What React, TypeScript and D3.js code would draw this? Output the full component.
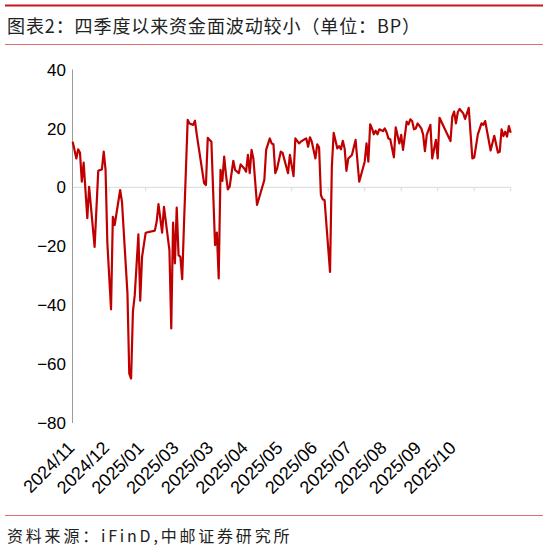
import { select, scaleLinear, line, format } from 'd3';
import { useEffect, useRef } from 'react';

// trading-day index (0 = start of 2024/11) and spread value in BP
const dayIndex = [
  0, 2, 3, 4, 5, 6, 8, 9, 12, 14, 16, 17, 18, 19, 21, 22, 23, 26, 27, 30,
  31, 32, 33, 34, 36, 37, 38, 40, 45, 46, 47, 49, 50, 53, 54, 55, 56, 57, 58, 59,
  60, 61, 63, 64, 66, 67, 68, 72, 73, 74, 75, 76, 78, 79, 80, 81, 82, 83, 84, 85,
  86, 88, 89, 91, 92, 94, 95, 96, 97, 98, 99, 101, 105, 106, 108, 109, 110, 111, 112, 114,
  115, 118, 119, 121, 122, 124, 125, 127, 128, 129, 130, 131, 132, 133, 134, 135, 136, 137, 138, 141,
  142, 143, 145, 146, 147, 148, 149, 150, 151, 153, 155, 157, 160, 161, 162, 163, 164, 165, 166, 167,
  168, 170, 171, 172, 173, 174, 176, 177, 179, 180, 181, 183, 184, 185, 186, 187, 188, 189, 191, 192,
  193, 194, 196, 197, 199, 200, 201, 207, 208, 209, 210, 211, 212, 214, 215, 217, 219, 220, 222, 224,
  225, 226, 229, 231, 233, 234, 235, 236, 237, 238, 239, 240,
];
const spreadBP = [
  15.5, 9.8, 12.9, 11.7, 1.9, 8.4, -10.5, 0.2, -20.2, 5.6, 6.1, 12.1, 5.9, -19, -41.4, -10, -12.8, -0.9, -4.9, -36,
  -63.2, -64.9, -42.2, -36.6, -16, -38.5, -23.6, -15.4, -14.7, -11.7, -5.7, -15.4, -6.6, -21.3, -47.9, -12, -25.8, -6.9, -23, -23.6,
  -31.2, -12.2, 22.9, 21.7, 21.2, 22.6, 17.8, 1.4, 0.8, 16.8, 16.1, 15.5, -19.6, -15.4, -30.9, 5.9, 2.2, 10.4, 4.2, -0.7,
  0.2, 9.0, 5.9, 4.8, 7.8, 6.4, 5.3, 11, 4.8, 12.7, 9.8, -6, 2.5, 12.7, 16.6, 14.9, 14.6, 4.8, 6.4, 12.1,
  11.7, 4.8, 11, 3.8, 16.6, 14.9, 15.5, 16.3, 16.6, 13.8, 17, 15.5, 12.7, 9.8, 14.6, 13.6, -2.6, -4.1, -4.3, -28.7,
  7.0, 18.5, 13.2, 14, 12.9, 15.8, 13.2, 5.6, 9.8, 11, 16.1, 1.9, 8.7, 14.9, 8.7, 21.4, 20, 18, 19.2, 18,
  19.7, 19.1, 20, 18.7, 16.6, 16.3, 10.2, 20.4, 14.9, 17.8, 12.7, 22.3, 21.4, 23.1, 22.5, 19.7, 20, 21.7, 20, 18,
  12.3, 17.8, 21.2, 9.8, 16.1, 9.8, 23.6, 15.7, 24, 25.7, 21.7, 25.5, 26.6, 25.1, 23.2, 27, 9.8, 10.1, 18, 21.7,
  21.2, 22.5, 12.5, 17.5, 11.8, 12.1, 19.7, 17.4, 18.9, 17.2, 20.8, 18.5,
];
const yTicks = [40, 20, 0, -20, -40, -60, -80];
const xLabels = [
  '2024/11', '2024/12', '2025/01', '2025/03', '2025/03', '2025/04',
  '2025/05', '2025/06', '2025/07', '2025/08', '2025/09', '2025/10',
];
const labelStep = 19;
const tickStep = 20;
const lastDay = 240;

const W = 548;
const H = 551;

export default function App() {
  const svgElement = useRef<SVGSVGElement>(null);

  useEffect(() => {
    if (svgElement.current == null) return;
    const svg = select(svgElement.current);
    svg.selectAll('*').remove();

    const x = scaleLinear().domain([0, lastDay]).range([72.7, 510.7]);
    const y = scaleLinear().domain([-80, 40]).range([423, 69.5]);
    const fmt = format('d');

    // header / footer rules
    svg.append('line').attr('x1', 5).attr('x2', 543).attr('y1', 5.5).attr('y2', 5.5)
      .attr('stroke', '#c8161d').attr('stroke-width', 2);
    svg.append('text').attr('x', 7).attr('y', 33)
      .attr('font-family', '"Noto Sans CJK SC", sans-serif').attr('font-size', 18)
      .attr('letter-spacing', 0.9).attr('fill', '#222')
      .text('图表2：四季度以来资金面波动较小（单位：BP）');
    svg.append('line').attr('x1', 5).attr('x2', 543).attr('y1', 44.5).attr('y2', 44.5)
      .attr('stroke', '#e07070').attr('stroke-width', 1);
    svg.append('line').attr('x1', 5).attr('x2', 543).attr('y1', 515.5).attr('y2', 515.5)
      .attr('stroke', '#e07070').attr('stroke-width', 1);
    svg.append('text').attr('x', 7).attr('y', 542)
      .attr('font-family', '"Noto Sans CJK SC", sans-serif').attr('font-size', 16)
      .attr('letter-spacing', 2.8).attr('fill', '#222')
      .text('资料来源：iFinD,中邮证券研究所');

    const g = svg.append('g');

    // zero line with category ticks
    g.append('line').attr('x1', x(0)).attr('x2', x(lastDay)).attr('y1', y(0)).attr('y2', y(0))
      .attr('stroke', '#d9d9d9').attr('stroke-width', 1);
    const tickIdx: number[] = [];
    for (let i = tickStep; i <= lastDay; i += tickStep) tickIdx.push(i);
    g.selectAll('.xtick').data(tickIdx).enter().append('line')
      .attr('x1', d => x(d)).attr('x2', d => x(d))
      .attr('y1', y(0)).attr('y2', y(0) + 4)
      .attr('stroke', '#d9d9d9').attr('stroke-width', 1);

    // y axis
    g.append('line').attr('x1', 72.5).attr('x2', 72.5).attr('y1', y(40)).attr('y2', y(-80))
      .attr('stroke', '#9a9a9a').attr('stroke-width', 1);
    g.selectAll('.ylab').data(yTicks).enter().append('text')
      .attr('x', 66).attr('y', d => y(d)).attr('dy', '0.36em')
      .attr('text-anchor', 'end')
      .attr('font-family', '"Liberation Sans", Arial, sans-serif').attr('font-size', 17)
      .attr('fill', '#000')
      .text(d => fmt(d));

    // x labels
    g.selectAll('.xlab').data(xLabels).enter().append('text')
      .attr('transform', (_, i) => `translate(${x(i * labelStep) + 3},${449}) rotate(-45)`)
      .attr('text-anchor', 'end')
      .attr('font-family', '"Liberation Sans", Arial, sans-serif').attr('font-size', 18)
      .attr('fill', '#000')
      .text(d => d);

    // series
    const pts: Array<[number, number]> = dayIndex.map((d, i) => [d, spreadBP[i]]);
    g.append('path').datum(pts)
      .attr('fill', 'none').attr('stroke', '#c00000').attr('stroke-width', 2.2)
      .attr('stroke-linejoin', 'round')
      .attr('d', line<[number, number]>().x(d => x(d[0])).y(d => y(d[1])));
  }, []);

  return (
    <svg ref={svgElement} width={W} height={H}
      style={{ position: 'absolute', left: 0, top: 0, background: '#fff' }} />
  );
}
